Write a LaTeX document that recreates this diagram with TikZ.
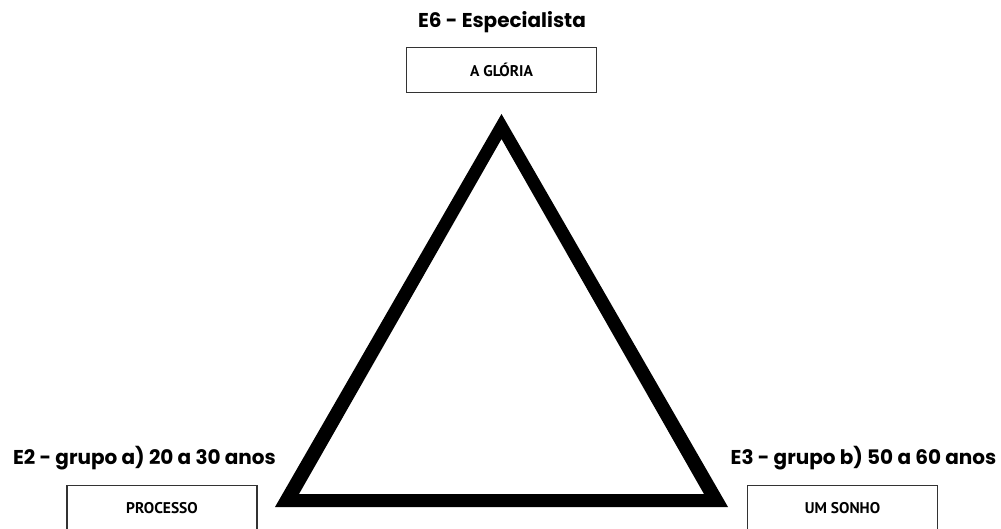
\documentclass[tikz,border=0pt]{standalone}
\usepackage{fontspec}
\setmainfont{Poppins}
\newfontfamily\boxfont{PT Sans}
\usetikzlibrary{positioning}

\begin{document}
\begin{tikzpicture}[x=1pt,y=-1pt,
						group/.style={
							font=\fontsize{20}{23}\selectfont\bfseries,
							anchor=base,
							inner sep=0pt
						},
						stage/.style={
							rectangle,
							draw=black!80, line width=1.6pt,
							minimum width=190pt,
							minimum height=45pt,
							inner sep=0pt,
							font=\boxfont\fontsize{15.5}{17}\selectfont\bfseries,
							align=center
						}]

						\useasboundingbox (0,0) rectangle (1001,529);

						% Stage boxes
						\node [stage] (gloria) at (501.5,70) {A GLÓRIA};
						\node [stage] (processo) at (162,508) {PROCESSO};
						\node [stage] (sonho) at (842.5,508) {UM SONHO};

						% Group labels above the boxes
						\node [group] (especialista) at (502,28) {E6 - Especialista};
						\node [group] (grupoA) at (144.5,464) {E2 - grupo a) 20 a 30 anos};
						\node [group] (grupoB) at (863.5,464) {E3 - grupo b) 50 a 60 anos};

						% The triangle (outer and inner outline)
						\coordinate (apex) at (501.5,114);
						\coordinate (baseL) at (275,507);
						\coordinate (baseR) at (728,507);
						\coordinate (apexIn) at (501.5,139);
						\coordinate (baseLIn) at (299,494);
						\coordinate (baseRIn) at (704,494);
						\fill [black, even odd rule] (apex) -- (baseL) -- (baseR) -- cycle
							(apexIn) -- (baseLIn) -- (baseRIn) -- cycle;
					\end{tikzpicture}
\end{document}
